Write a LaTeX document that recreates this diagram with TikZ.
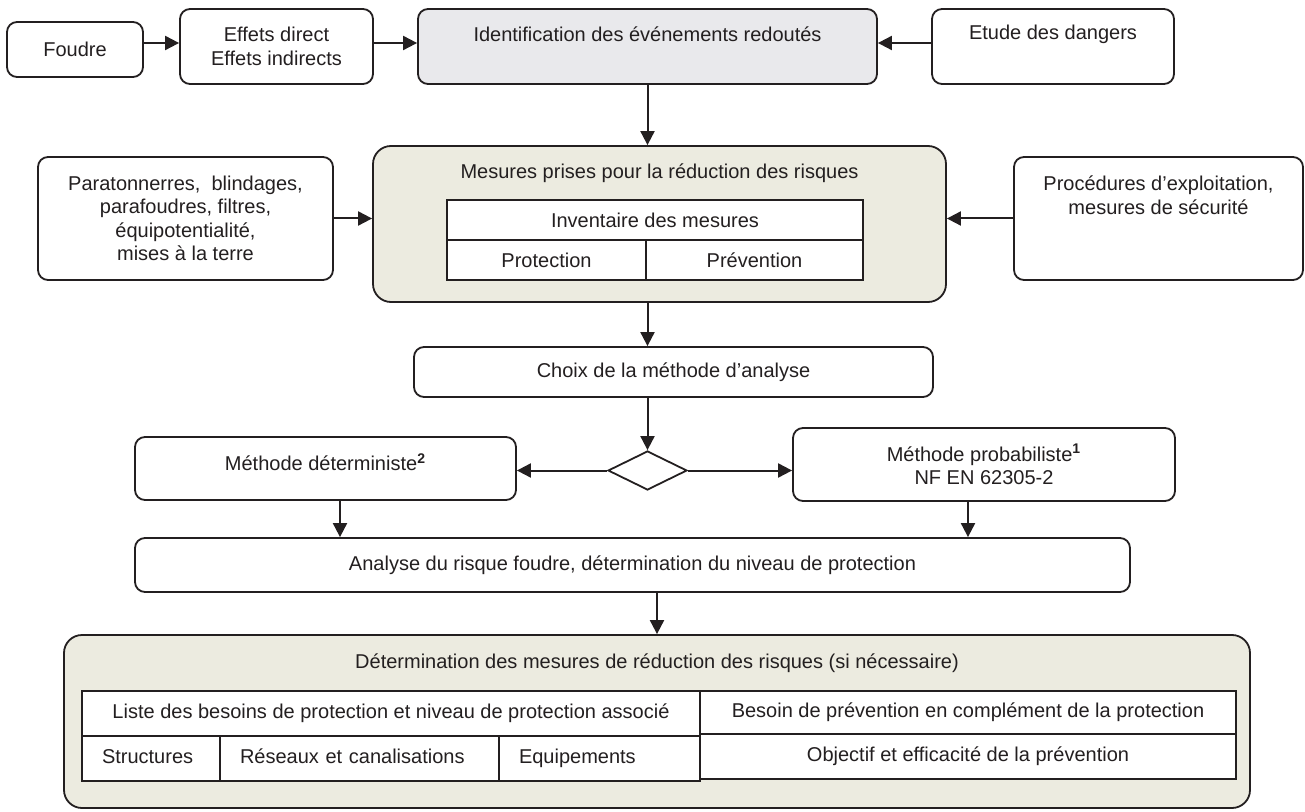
\documentclass[tikz,border=0pt]{standalone}
\usepackage{fontspec}
\setmainfont{Liberation Sans}
\usetikzlibrary{arrows.meta,shapes.geometric}
\definecolor{ln}{RGB}{35,31,32}
\definecolor{grayfill}{RGB}{233,233,236}
\definecolor{beige}{RGB}{236,235,224}
\begin{document}
\begin{tikzpicture}[x=0.5pt,y=-0.5pt,
  font=\fontsize{10}{11.75}\selectfont,
  box/.style={draw=ln, line width=0.9pt, rounded corners=5pt, fill=white, inner sep=0pt, align=center, text=ln},
  bigbox/.style={box, rounded corners=9pt, fill=beige},
  cell/.style={draw=ln, line width=0.9pt, fill=white, inner sep=0pt, align=center, text=ln},
  lcell/.style={cell, align=left, inner xsep=10pt, text height=7.3pt, text depth=2.2pt},
  lbl/.style={inner sep=0pt, align=center, text=ln},
  arr/.style={draw=ln, line width=1pt, -{Triangle[length=7pt,width=7pt]}}]
\useasboundingbox (0,0) rectangle (1305,812);

% top row
\node[box, minimum width=68pt, minimum height=27.5pt] (foudre) at (75,49.5) {Foudre};
\node[box, minimum width=96.5pt, minimum height=37.5pt] (effets) at (276.5,46.5) {Effets direct\\Effets indirects};
\node[box, fill=grayfill, minimum width=229.5pt, minimum height=37.5pt] (ident) at (647.5,46.5) {};
\node[lbl] (identtxt) at (647.5,34) {Identification des événements redoutés};
\node[box, minimum width=121pt, minimum height=37.5pt] (etude) at (1053,46.5) {};
\node[lbl] (etudetxt) at (1053,34) {Etude des dangers};

% second row
\node[box, minimum width=147.5pt, minimum height=61.5pt] (para) at (185.5,218.5) {Paratonnerres,\ \ blindages,\\parafoudres, filtres,\\équipotentialité,\\mises à la terre};
\node[bigbox, minimum width=286.5pt, minimum height=78pt] (mesures) at (659.5,224) {};
\node[lbl] (mesurestxt) at (659.5,173) {Mesures prises pour la réduction des risques};
\node[cell, minimum width=208pt, minimum height=20pt] (inv) at (655,220) {Inventaire des mesures};
\node[cell, minimum width=99.5pt, minimum height=20pt] (prot) at (546.5,260) {Protection};
\node[cell, minimum width=108.5pt, minimum height=20pt] (prev) at (754.5,260) {Prévention};
\node[box, minimum width=144.5pt, minimum height=61.5pt] (proc) at (1158.5,218.5) {};
\node[lbl] (proctxt) at (1158.5,195) {Procédures d’exploitation,\\mesures de sécurité};

% middle
\node[box, minimum width=259.5pt, minimum height=25pt] (choix) at (673.5,372) {Choix de la méthode d’analyse};
\node[draw=ln, line width=0.9pt, diamond, minimum width=39.5pt, minimum height=19.5pt, inner sep=0pt, fill=white] (dia) at (647.5,470.5) {};
\node[box, minimum width=190.5pt, minimum height=31.5pt] (det) at (325.5,468.5) {};
\node[lbl] (dettxt) at (325.5,462) {Méthode déterministe\textsuperscript{\textbf{2}}};
\node[box, minimum width=191pt, minimum height=36.5pt] (prob) at (984,464.5) {Méthode probabiliste\textsuperscript{\textbf{1}}\\NF EN 62305-2};
\node[box, minimum width=497.5pt, minimum height=27pt] (analyse) at (632.5,565) {Analyse du risque foudre, détermination du niveau de protection};

% bottom
\node[bigbox, minimum width=593pt, minimum height=86.5pt] (determ) at (657,721.5) {};
\node[lbl] (determtxt) at (657,663) {Détermination des mesures de réduction des risques (si nécessaire)};
\node[cell, minimum width=309pt, minimum height=22.5pt] (liste) at (391,713.5) {Liste des besoins de protection et niveau de protection associé};
\node[lcell, minimum width=69pt, minimum height=22.5pt, text width=49pt] (struct) at (151,758.5) {Structures};
\node[lcell, minimum width=139.5pt, minimum height=22.5pt, text width=119.5pt] (reseaux) at (359.5,758.5) {Réseaux et canalisations};
\node[lcell, minimum width=100.5pt, minimum height=22.5pt, text width=80.5pt] (equip) at (599.5,758.5) {Equipements};
\node[cell, minimum width=268pt, minimum height=21.5pt] (besoin) at (968,712.5) {Besoin de prévention en complément de la protection};
\node[cell, minimum width=268pt, minimum height=22.5pt] (objectif) at (968,756.5) {Objectif et efficacité de la prévention};

% connectors
\draw[arr] ([yshift=3.25pt]foudre.east) -- ([yshift=3.25pt]foudre.east -| effets.west);
\draw[arr] ([yshift=1.75pt]effets.east) -- ([yshift=1.75pt]effets.east -| ident.west);
\draw[arr] ([yshift=1.75pt]etude.west) -- ([yshift=1.75pt]etude.west -| ident.east);
\draw[arr] (ident.south) -- (ident.south |- mesures.north);
\draw[arr] (para.east) -- (para.east -| mesures.west);
\draw[arr] (proc.west) -- (proc.west -| mesures.east);
\draw[arr] (mesures.south -| dia.north) -- (choix.north -| dia.north);
\draw[arr] (choix.south -| dia.north) -- (dia.north);
\draw[arr] (dia.west) -- (dia.west -| det.east);
\draw[arr] (dia.east) -- (dia.east -| prob.west);
\draw[arr] ([xshift=7.25pt]det.south) -- ([xshift=7.25pt]det.south |- analyse.north);
\draw[arr] ([xshift=-8pt]prob.south) -- ([xshift=-8pt]prob.south |- analyse.north);
\draw[arr] ([xshift=12.25pt]analyse.south) -- (determ.north);
\end{tikzpicture}
\end{document}
